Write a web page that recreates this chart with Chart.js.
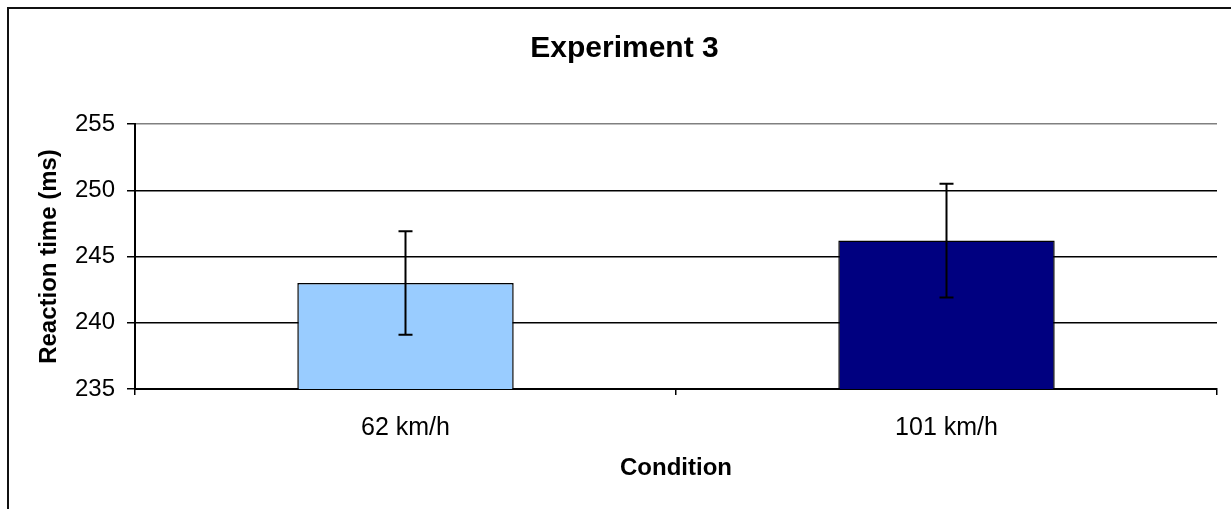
<!DOCTYPE html>
<html>
<head>
<meta charset="utf-8">
<script src="https://cdn.jsdelivr.net/npm/chart.js@4"></script>
<style>
  html, body { margin: 0; padding: 0; background: #fff; overflow: hidden; }
  #frame {
    position: absolute; left: 7px; top: 7px;
    width: 1231px; height: 509px;
    border: 2px solid #111;
  }
  #chart { display: block; }
</style>
</head>
<body>
<div id="frame"><canvas id="chart" width="1231" height="509"></canvas></div>
<script>
const categories = ['62 km/h', '101 km/h'];
const meanRT     = [243.0, 246.2];
const errorRT    = [3.9, 4.3];
const barColors  = ['#99CCFF', '#000080'];
const yRange     = { min: 235, max: 255, step: 5 };

const FONT = "'Liberation Sans', Arial, sans-serif";

// simple symmetric error bars, drawn through the y scale
const errorBars = {
    id: 'errorBars',
    afterDatasetsDraw(chart) {
        const { ctx, scales: { y } } = chart;
        const meta = chart.getDatasetMeta(0);
        ctx.save();
        ctx.strokeStyle = '#000';
        ctx.lineWidth = 2;
        meta.data.forEach((bar, i) => {
            const top = y.getPixelForValue(meanRT[i] + errorRT[i]);
            const bot = y.getPixelForValue(meanRT[i] - errorRT[i]);
            const x = bar.x;
            ctx.beginPath();
            ctx.moveTo(x, top); ctx.lineTo(x, bot);
            ctx.moveTo(x - 7, top); ctx.lineTo(x + 7, top);
            ctx.moveTo(x - 7, bot); ctx.lineTo(x + 7, bot);
            ctx.stroke();
        });
        ctx.restore();
    },
};

new Chart(document.getElementById('chart').getContext('2d'), {
    type: 'bar',
    data: {
        labels: categories,
        datasets: [{
            data: meanRT,
            backgroundColor: barColors,
            borderColor: '#000',
            borderWidth: 1.5,
            barPercentage: 0.4,
            categoryPercentage: 1,
        }],
    },
    options: {
        responsive: false,
        animation: false,
        layout: { padding: 0 },
        plugins: {
            legend: { display: false },
            tooltip: { enabled: false },
            title: {
                display: true,
                text: 'Experiment 3',
                color: '#000',
                font: { family: FONT, size: 30, weight: 'bold' },
                padding: { top: 22, bottom: 57 },
            },
        },
        scales: {
            x: {
                offset: true,
                grid: {
                    offset: true,
                    drawOnChartArea: true,
                    color: c => c.index === categories.length ? '#808080' : 'rgba(0,0,0,0)',
                    tickColor: '#000',
                    tickLength: 6,
                    lineWidth: 1.5,
                },
                border: { color: '#000', width: 2 },
                ticks: {
                    color: '#000',
                    font: { family: FONT, size: 25 },
                    padding: 18,
                    maxRotation: 0,
                },
                title: {
                    display: true,
                    text: 'Condition',
                    color: '#000',
                    font: { family: FONT, size: 24, weight: 'bold' },
                    padding: { top: 0, bottom: 35 },
                },
                afterFit: s => { s.height = 129; },
            },
            y: {
                min: yRange.min,
                max: yRange.max,
                ticks: {
                    stepSize: yRange.step,
                    color: '#000',
                    font: { family: FONT, size: 24 },
                    padding: 12,
                },
                grid: {
                    color: c => c.tick && c.tick.value === yRange.max ? '#808080' : '#000',
                    tickColor: '#000',
                    tickLength: 8,
                    lineWidth: 1.5,
                },
                border: { color: '#000', width: 2 },
                title: {
                    display: true,
                    text: 'Reaction time (ms)',
                    color: '#000',
                    font: { family: FONT, size: 24, weight: 'bold' },
                    padding: { top: 26, bottom: 0 },
                },
                afterFit: s => { s.width = 126; },
            },
            // empty right-hand axis, only keeps the right margin without shifting the title
            yRight: {
                position: 'right',
                min: yRange.min,
                max: yRange.max,
                grid: { drawOnChartArea: false, drawTicks: false },
                border: { display: false },
                ticks: { display: false },
                afterFit: s => { s.width = 23; },
            },
        },
    },
    plugins: [errorBars],
});
</script>
</body>
</html>
